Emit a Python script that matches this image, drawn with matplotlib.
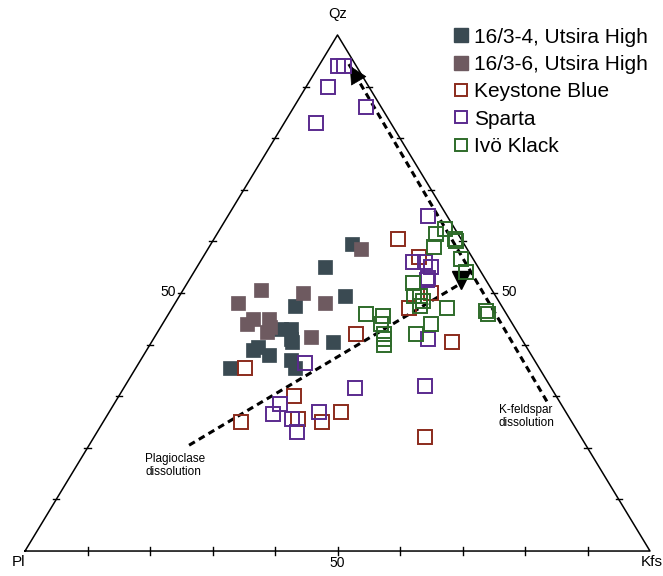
import numpy as np
import matplotlib.pyplot as plt
from matplotlib.lines import Line2D

plt.rcParams['font.family'] = ['Liberation Sans', 'DejaVu Sans']

# punkter som (Qz, Pl, Kfs) i procent
utsira_34 = [(59.5, 18, 22.5), (55, 24.5, 20.5), (49.5, 24, 26.5), (47.5, 33, 19.5),
             (43, 37.5, 19.5), (43, 36, 21), (41, 37, 22), (40.5, 37, 22.5),
             (40.5, 30.5, 29), (39, 44, 17), (39.5, 43, 17.5), (38, 42, 20),
             (37, 39, 24), (35.5, 39, 25.5), (35.5, 49.5, 15)]
utsira_36 = [(58.5, 17, 24.5), (50.5, 37, 12.5), (50, 30.5, 19.5), (48, 42, 10),
             (48, 28, 24), (45, 41, 14), (44, 42.5, 13.5), (45, 38.5, 16.5),
             (43.5, 39, 17.5), (42.5, 40, 17.5), (41.5, 33.5, 25)]
keystone = [(60.5, 10, 29.5), (57, 8.5, 34.5), (50, 10, 40), (47, 15, 38),
            (40.5, 11.5, 48), (42, 26, 32), (35.5, 47, 17.5), (30, 42, 28),
            (25, 53, 22), (25.5, 43.5, 31), (25, 40, 35), (27, 36, 37), (22, 25, 53)]
sparta = [(94, 3, 3), (94, 2, 4), (90, 6.5, 3.5), (86, 2.5, 11.5), (83, 12, 5),
          (65, 3, 32), (56, 10, 34), (56, 8, 36), (55, 7.5, 37.5), (53, 9, 38),
          (52.5, 9.5, 38), (41, 15, 44), (36.5, 37, 26.5), (31.5, 31.5, 37),
          (32, 20, 48), (28.5, 45, 26.5), (26.5, 47, 26.5), (27, 39.5, 33.5),
          (25.5, 44.5, 30), (23, 45, 32)]
ivo_klack = [(62.5, 1.5, 36), (61.5, 3.5, 35), (60.5, 1, 38.5), (60, 1, 39),
             (59, 5, 36), (56.5, 2, 41.5), (54, 2.5, 43.5), (52, 12, 36),
             (49.5, 13, 37.5), (49.5, 12, 38.5), (48.5, 12, 39.5), (47.5, 13, 39.5),
             (47, 9, 44), (46.5, 3, 50.5), (46, 3, 51), (46, 22.5, 31.5),
             (45.5, 20, 34.5), (44, 21, 35), (44, 13, 43), (42, 21.5, 36.5),
             (41, 22, 37), (40, 22.5, 37.5), (42, 16.5, 41.5)]

# pilar (start, slut) i (Qz, Pl, Kfs)
kfs_arrow = [(29, 2, 69), (94.5, 1, 4.5)]
pl_arrow = [(20.5, 63.5, 16), (51.5, 5, 43.5)]
pl_head = (52.5, 4, 43.5)

tick_vals = np.arange(10, 100, 10)


def tern(p):
    p = np.atleast_2d(np.asarray(p, dtype=float))
    qz, pl, kfs = p[:, 0], p[:, 1], p[:, 2]
    s = qz + pl + kfs
    return (kfs + qz / 2) / s, qz / s


fig = plt.figure(figsize=(6.63, 5.76), dpi=100)
ax = fig.add_axes([0, 0, 1, 1])
ax.set_xlim(-0.04, 1.0208)
ax.set_ylim(-0.0484, 1.0678)
ax.axis('off')

# triangel
ax.plot([0, 1, 0.5, 0], [0, 0, 1, 0], color='black', lw=1.1, zorder=1)
for t in tick_vals / 100:
    ax.plot([t, t], [-0.008, 0.008], color='black', lw=1.0)
    ax.plot([t / 2 - 0.005, t / 2 + 0.005], [t, t], color='black', lw=1.0)
    ax.plot([1 - t / 2 - 0.005, 1 - t / 2 + 0.005], [t, t], color='black', lw=1.0)

ax.text(0.5008, 1.040, 'Qz', ha='center', va='center', fontsize=10.5)
ax.text(-0.011, -0.022, 'Pl', ha='center', va='center', fontsize=11)
ax.text(1.003, -0.022, 'Kfs', ha='center', va='center', fontsize=11)
ax.text(0.5, -0.023, '50', ha='center', va='center', fontsize=10)
ax.text(0.2416, 0.502, '50', ha='right', va='center', fontsize=10)
ax.text(0.763, 0.502, '50', ha='left', va='center', fontsize=10)

# pilar
for arr in (kfs_arrow, pl_arrow):
    x, y = tern(arr)
    ax.plot(x, y, color='black', lw=2.2, dashes=(2.2, 1.5), zorder=2)
x, y = tern(kfs_arrow)
ax.annotate('', xy=(x[1], y[1]),
            xytext=(x[1] + (x[0] - x[1]) * 0.04, y[1] + (y[0] - y[1]) * 0.04),
            arrowprops=dict(arrowstyle='-|>,head_length=0.8,head_width=0.4',
                            color='black', mutation_scale=15, lw=0.5), zorder=3)
hx, hy = tern(pl_head)
ax.plot(hx, hy, marker='v', color='black', markersize=13, zorder=3)

ax.text(0.192, 0.19, 'Plagioclase\ndissolution', ha='left', va='top', fontsize=8.5, linespacing=1.15)
ax.text(0.758, 0.285, 'K-feldspar\ndissolution', ha='left', va='top', fontsize=8.5, linespacing=1.15)

series = [
    (utsira_34, '16/3-4, Utsira High', '#3a4a52', True),
    (utsira_36, '16/3-6, Utsira High', '#6e5a60', True),
    (keystone, 'Keystone Blue', '#8b2b1c', False),
    (sparta, 'Sparta', '#5a2a8e', False),
    (ivo_klack, 'Ivö Klack', '#2e6b2a', False),
]
handles = []
for pts, label, col, filled in series:
    x, y = tern(pts)
    if filled:
        ax.plot(x, y, 's', markersize=10.5, markerfacecolor=col, markeredgecolor=col,
                markeredgewidth=0.5, linestyle='none', zorder=4)
        h = Line2D([], [], marker='s', markersize=10, markerfacecolor=col,
                   markeredgecolor=col, linestyle='none')
    else:
        ax.plot(x, y, 's', markersize=9.5, markerfacecolor='none', markeredgecolor=col,
                markeredgewidth=1.4, linestyle='none', zorder=5)
        h = Line2D([], [], marker='s', markersize=9, markerfacecolor='none',
                   markeredgecolor=col, markeredgewidth=1.4, linestyle='none')
    handles.append((h, label))

fig.legend([h for h, _ in handles], [l for _, l in handles], loc='upper left',
           bbox_to_anchor=(0.684, 0.952), frameon=False, fontsize=15,
           handlelength=0.7, handletextpad=0.3, labelspacing=0.4, borderpad=0,
           borderaxespad=0)

fig.savefig('out.png', dpi=100)
